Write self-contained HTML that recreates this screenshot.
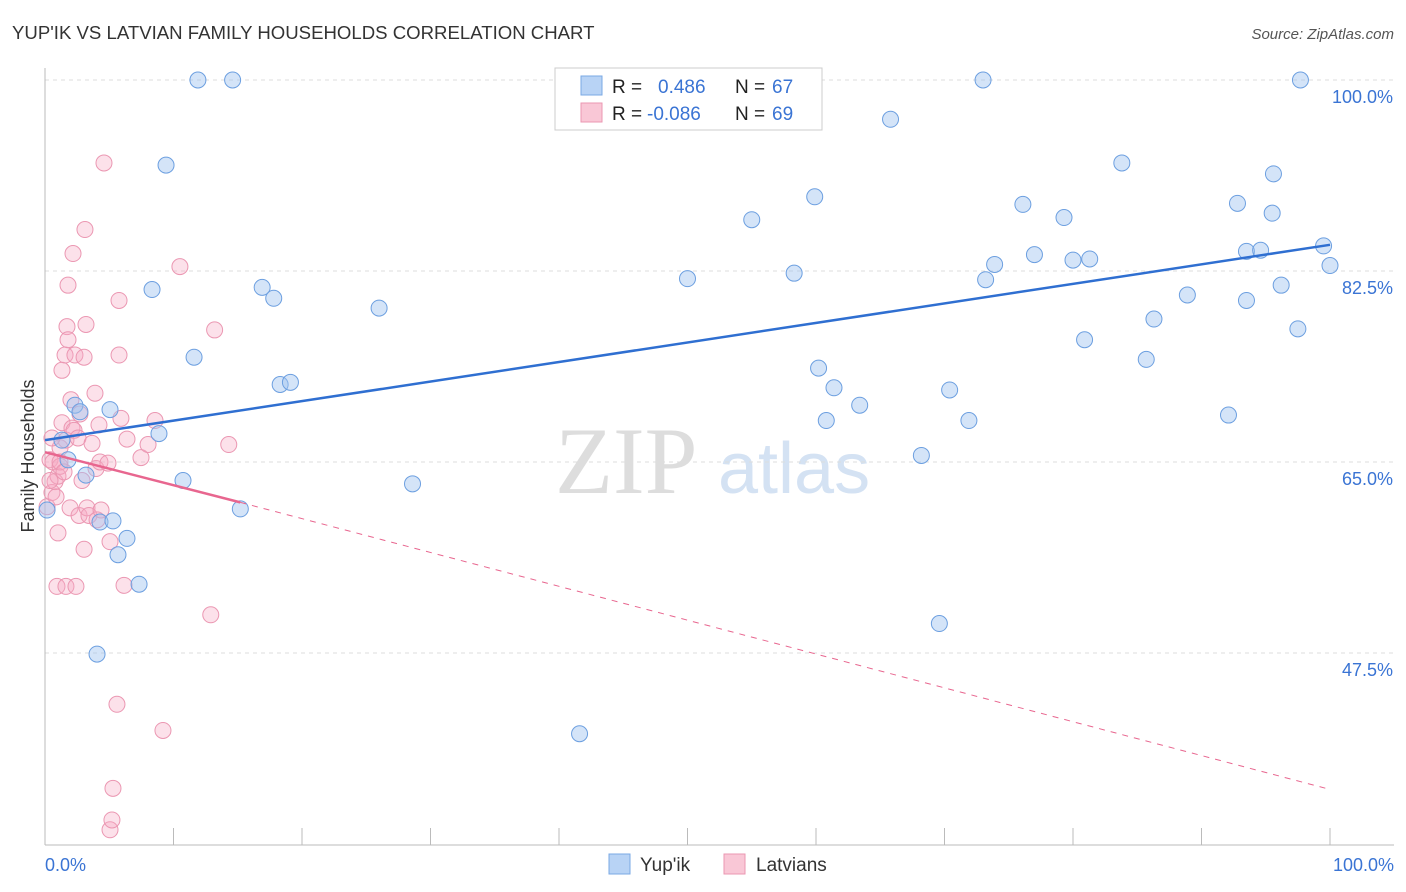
<!DOCTYPE html>
<html><head><meta charset="utf-8"><style>
body{margin:0;background:#fff;font-family:"Liberation Sans",sans-serif;}
svg{display:block}
</style></head><body>
<svg id="chart" width="1406" height="892">
<text x="12" y="39" font-size="18.6" fill="#333">YUP'IK VS LATVIAN FAMILY HOUSEHOLDS CORRELATION CHART</text>
<text x="1394" y="39" font-size="15" fill="#555" text-anchor="end" font-style="italic">Source: ZipAtlas.com</text>
<text x="555" y="493" font-size="95" fill="#ddd" font-family="Liberation Serif,serif">ZIP</text>
<text x="718" y="493" font-size="72" fill="#d4e2f3">atlas</text>
<text transform="translate(34,456) rotate(-90)" font-size="18" fill="#333" text-anchor="middle">Family Households</text>
<g id="grid"></g><g id="pts"></g><g id="trend"></g>
<g>
<rect x="555" y="68" width="267" height="62" fill="#fff" stroke="#ccc"/>
<rect x="581" y="76" width="21" height="19" fill="#b8d3f5" stroke="#7aa8e4"/>
<rect x="581" y="103" width="21" height="19" fill="#f9c7d6" stroke="#eb97b2"/>
<text x="612" y="93" font-size="19" fill="#222">R = </text><text x="658" y="93" font-size="19" fill="#3a74d4">0.486</text>
<text x="735" y="93" font-size="19" fill="#222">N = </text><text x="772" y="93" font-size="19" fill="#3a74d4">67</text>
<text x="612" y="120" font-size="19" fill="#222">R = </text><text x="647" y="120" font-size="19" fill="#3a74d4">-0.086</text>
<text x="735" y="120" font-size="19" fill="#222">N = </text><text x="772" y="120" font-size="19" fill="#3a74d4">69</text>
</g>
<g>
<rect x="609" y="854" width="21" height="20" fill="#b8d3f5" stroke="#7aa8e4"/>
<text x="640" y="871" font-size="19" fill="#333">Yup'ik</text>
<rect x="724" y="854" width="21" height="20" fill="#f9c7d6" stroke="#eb97b2"/>
<text x="756" y="871" font-size="19" fill="#333">Latvians</text>
</g>
<text x="45" y="871" font-size="18" fill="#3a74d4">0.0%</text>
<text x="1394" y="871" font-size="18" fill="#3a74d4" text-anchor="end">100.0%</text>
</svg>
<script>
const yTicks=[100,82.5,65,47.5];
const yupikX=[0.16,1.32,1.79,2.33,2.72,3.19,4.05,4.28,5.06,5.29,5.68,6.38,7.32,8.33,8.87,9.42,10.74,11.6,11.9,14.6,15.2,16.9,17.8,18.3,19.1,26.0,28.6,41.6,50.0,55.0,58.3,59.9,60.2,60.8,61.4,63.4,65.8,68.2,69.6,70.4,71.9,73.0,73.2,73.9,76.1,77.0,79.3,80.0,80.9,81.3,83.8,85.7,86.3,88.9,92.1,92.8,93.5,93.5,94.6,95.6,95.5,96.2,97.5,97.7,99.5,100];
const yupikY=[60.6,67.0,65.2,70.2,69.6,63.8,47.4,59.5,69.8,59.6,56.5,58.0,53.8,80.8,67.6,92.2,63.3,74.6,100,100,60.7,81.0,80.0,72.1,72.3,79.1,63.0,40.1,81.8,87.2,82.3,89.3,73.6,68.8,71.8,70.2,96.4,65.6,50.2,71.6,68.8,100,81.7,83.1,88.6,84.0,87.4,83.5,76.2,83.6,92.4,74.4,78.1,80.3,69.3,88.7,84.3,79.8,84.4,91.4,87.8,81.2,77.2,100,84.8,83.0];
const latX=[0.16,0.39,0.54,0.62,0.78,0.86,1.01,1.01,1.17,1.17,1.32,1.32,1.56,1.63,1.71,1.79,1.79,1.95,2.02,2.1,2.18,2.26,2.33,2.57,2.65,2.72,2.88,3.04,3.04,3.11,3.19,3.27,3.42,3.66,3.89,3.97,4.05,4.2,4.28,4.36,4.59,4.9,5.06,5.06,5.21,5.29,5.6,5.76,5.76,5.91,6.15,6.38,7.47,8.02,8.56,9.18,10.5,12.9,13.2,14.3,0.93,1.63,2.41,0.39,0.54,1.17,1.48];
const latY=[60.9,65.2,62.2,65.0,63.2,61.8,63.7,58.5,64.6,66.3,68.6,73.4,74.8,67.0,77.4,76.2,81.2,60.8,70.7,68.1,84.1,67.9,74.8,67.2,60.1,69.4,63.3,57.0,74.6,86.3,77.6,60.8,60.1,66.7,71.3,64.4,59.7,68.4,65.0,60.6,92.4,64.9,57.7,31.3,32.2,35.1,42.8,79.8,74.8,69.0,53.7,67.1,65.4,66.6,68.8,40.4,82.9,51.0,77.1,66.6,53.6,53.6,53.6,63.3,67.2,65.0,64.1];
const X=v=>45+v*12.85, Y=v=>80+(100-v)*10.914;
const NS='http://www.w3.org/2000/svg';
function mk(tag,attrs,parent){const e=document.createElementNS(NS,tag);for(const k in attrs)e.setAttribute(k,attrs[k]);parent.appendChild(e);return e;}
const grid=document.getElementById('grid');
yTicks.forEach(t=>{
 const l=mk('line',{x1:45,x2:1394,y1:Y(t),y2:Y(t),stroke:'#ddd','stroke-dasharray':'4,4'},grid);
 
 
 const tx=mk('text',{x:1393,y:Y(t)+23,'font-size':18,fill:'#3a74d4','text-anchor':'end'},grid);
 tx.textContent=t.toFixed(1)+'%';
 
 
});
mk('line',{x1:45,x2:45,y1:68,y2:845,stroke:'#bbb'},grid);
mk('line',{x1:45,x2:1394,y1:845,y2:845,stroke:'#bbb'},grid);
for(let i=0;i<=10;i++){const t=mk('line',{x1:X(i*10),x2:X(i*10),y1:828,y2:845,stroke:'#bbb'},grid);
 
 }
const pts=document.getElementById('pts');
latX.forEach((v,i)=>{const c=mk('circle',{cx:X(v),cy:Y(latY[i]),r:8,fill:'rgba(246,170,195,0.35)',stroke:'#eb97b2','stroke-width':1},pts);
 
 });
yupikX.forEach((v,i)=>{const c=mk('circle',{cx:X(v),cy:Y(yupikY[i]),r:8,fill:'rgba(160,195,240,0.45)',stroke:'#6c9fe0','stroke-width':1},pts);
 
 });
const tr=document.getElementById('trend');
let l=mk('line',{x1:X(0),y1:Y(67.0),x2:X(100),y2:Y(84.9),stroke:'#2f6fd1','stroke-width':2.5},tr);


l=mk('line',{x1:X(0),y1:Y(65.9),x2:X(15.2),y2:Y(61.3),stroke:'#e8668f','stroke-width':2.5},tr);


l=mk('line',{x1:X(15.2),y1:Y(61.3),x2:X(100),y2:Y(35.0),stroke:'#e8668f','stroke-width':1,'stroke-dasharray':'6,6'},tr);


</script>
</body></html>
